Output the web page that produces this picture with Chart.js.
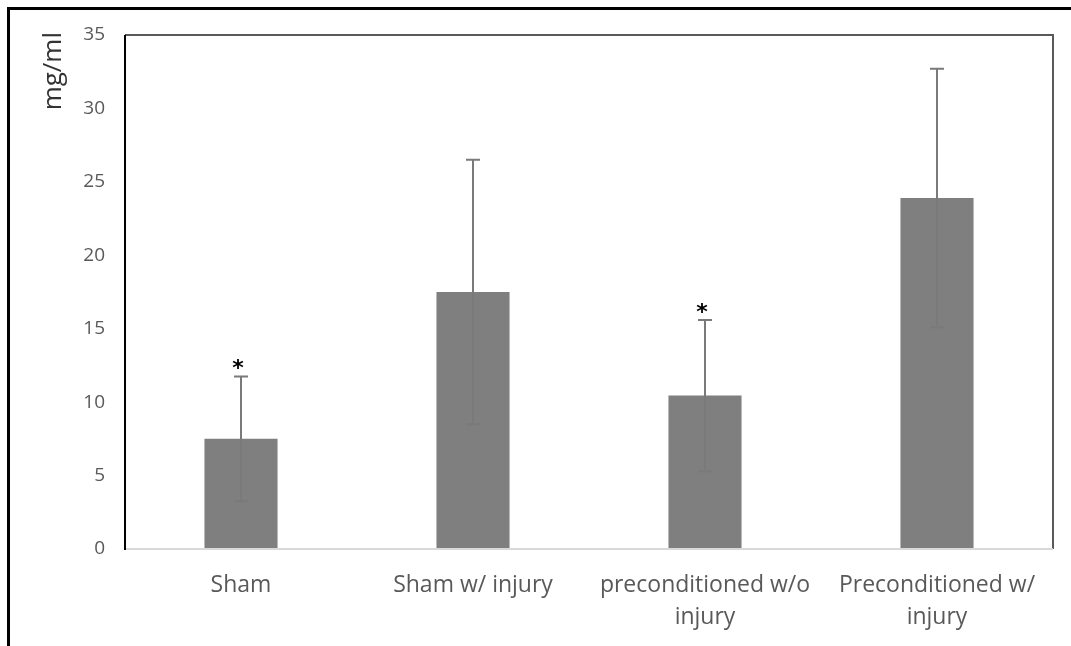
<!DOCTYPE html>
<html><head><meta charset="utf-8">
<script src="https://cdn.jsdelivr.net/npm/chart.js@4/dist/chart.umd.min.js"></script>
<style>
html,body{margin:0;padding:0;background:#fff;}
#wrap{position:relative;width:1071px;height:646px;}
#frame{position:absolute;left:7px;top:7px;right:0;bottom:0;border-left:3px solid #000;border-top:3px solid #000;pointer-events:none;}
canvas{position:absolute;left:0;top:0;}
</style></head>
<body><div id="wrap"><canvas id="c" width="1071" height="646"></canvas><div id="frame"></div></div>
<script>
const categories = [["Sham"], ["Sham w/ injury"], ["preconditioned w/o", "injury"], ["Preconditioned w/", "injury"]];
const means = [7.5, 17.5, 10.45, 23.9];
const errors = [4.25, 9.0, 5.15, 8.8];
const significant = [true, false, true, false];
const yTicks = [0, 5, 10, 15, 20, 25, 30, 35];
const yTitle = "mg/ml";

const extras = {
  id: 'extras',
  afterDatasetsDraw(chart) {
    const ctx = chart.ctx, x = chart.scales.x, y = chart.scales.y, a = chart.chartArea;
    ctx.save();
    ctx.strokeStyle = '#595959'; ctx.lineWidth = 2;
    ctx.beginPath();
    ctx.moveTo(a.left, a.top); ctx.lineTo(a.right, a.top); ctx.lineTo(a.right, a.bottom);
    ctx.stroke();
    ctx.strokeStyle = '#d9d9d9'; ctx.lineWidth = 2;
    ctx.beginPath(); ctx.moveTo(a.left, a.bottom); ctx.lineTo(a.right, a.bottom); ctx.stroke();
    ctx.strokeStyle = '#000'; ctx.lineWidth = 2;
    ctx.beginPath(); ctx.moveTo(a.left, a.top); ctx.lineTo(a.left, a.bottom + 1); ctx.stroke();
    ctx.strokeStyle = '#7a7a7a'; ctx.lineWidth = 2;
    means.forEach((m, i) => {
      const cx = x.getPixelForValue(i);
      const yt = y.getPixelForValue(m + errors[i]);
      const yb = y.getPixelForValue(m - errors[i]);
      ctx.beginPath();
      ctx.moveTo(cx, yt); ctx.lineTo(cx, yb);
      ctx.moveTo(cx - 7, yt); ctx.lineTo(cx + 7, yt);
      ctx.moveTo(cx - 7, yb); ctx.lineTo(cx + 7, yb);
      ctx.stroke();
      if (significant[i]) {
        ctx.fillStyle = '#000';
        ctx.font = 'bold 22px "DejaVu Sans"';
        ctx.textAlign = 'center'; ctx.textBaseline = 'alphabetic';
        ctx.fillText('*', cx - 3, yt - 1);
      }
    });
    ctx.fillStyle = '#333333';
    ctx.font = '26px "Open Sans"';
    ctx.translate(61, 32); ctx.rotate(-Math.PI / 2);
    ctx.textAlign = 'right'; ctx.textBaseline = 'alphabetic';
    ctx.fillText(yTitle, 0, 0);
    ctx.restore();
  }
};

new Chart(document.getElementById('c'), {
  type: 'bar',
  data: {
    labels: categories,
    datasets: [{ data: means, backgroundColor: '#7f7f7f', borderWidth: 0,
      barPercentage: 0.315, categoryPercentage: 1 }]
  },
  options: {
    responsive: false, animation: false, devicePixelRatio: 1,
    layout: { padding: { top: 35, right: 18, left: 0, bottom: 0 } },
    plugins: { legend: { display: false }, tooltip: { enabled: false } },
    scales: {
      x: {
        grid: { display: false, drawTicks: false }, border: { display: false },
        ticks: { color: '#595959', font: { family: 'Open Sans', size: 23, lineHeight: 1.4 }, padding: 20, maxRotation: 0, autoSkip: false },
        afterFit(s) { s.height = 97; }
      },
      y: {
        min: 0, max: 35,
        afterBuildTicks(s) { s.ticks = yTicks.map(v => ({ value: v })); },
        grid: { display: false, drawTicks: false }, border: { display: false },
        ticks: { color: '#595959', font: { family: 'Open Sans', size: 19 }, padding: 20 },
        afterFit(s) { s.width = 125; }
      }
    }
  },
  plugins: [extras]
});
</script></body></html>
